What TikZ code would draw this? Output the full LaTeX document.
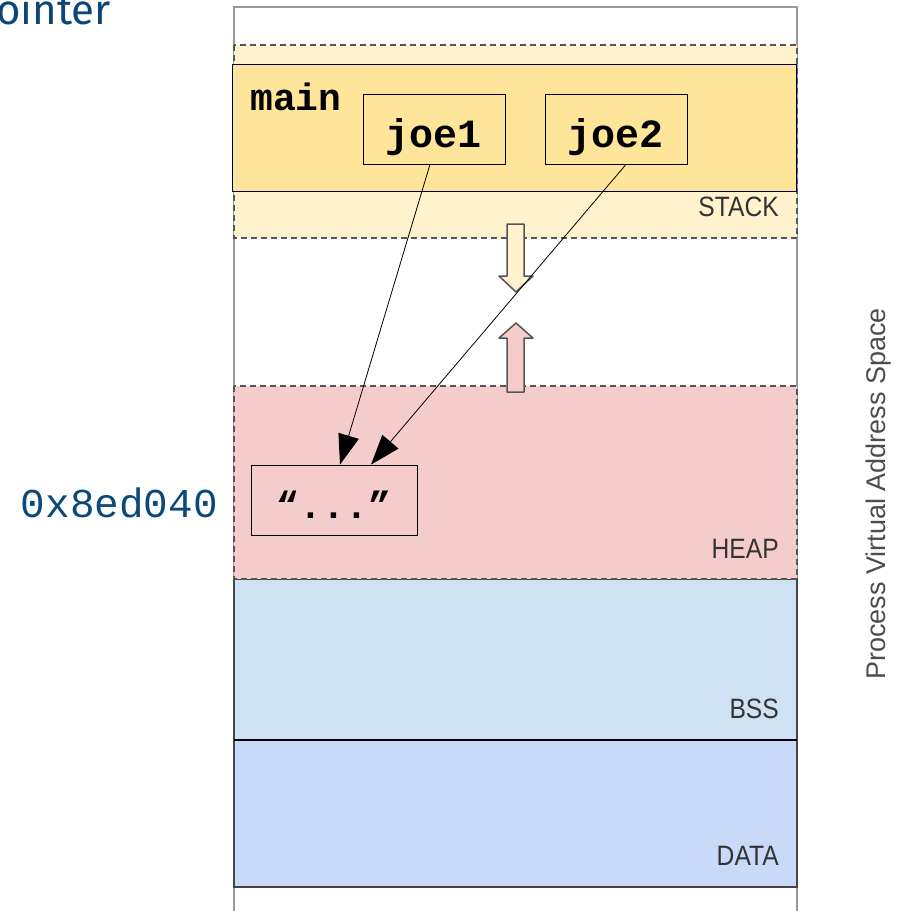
\documentclass[tikz,border=0pt]{standalone}
\usepackage{fontspec}
\setmainfont{Liberation Sans}
\newfontfamily\codefont{Liberation Mono}
\newfontfamily\segfont[FakeStretch=0.88]{Liberation Sans}
\newfontfamily\titlefont{Fira Sans}
\usetikzlibrary{arrows.meta}

\definecolor{stackfill}{HTML}{FFF2CC}
\definecolor{framefill}{HTML}{FFE599}
\definecolor{heapfill}{HTML}{F4CCCC}
\definecolor{bssfill}{HTML}{CFE2F3}
\definecolor{datafill}{HTML}{C9DAF8}
\definecolor{addrblue}{HTML}{0B4A78}
\definecolor{titleblue}{HTML}{0E4577}
\definecolor{edgegray}{HTML}{555555}
\definecolor{framegray}{HTML}{9A9A9A}
\definecolor{labelgray}{HTML}{333333}

\tikzset{
  regionedge/.style={draw=edgegray, line width=1.4pt, dash pattern=on 6pt off 4pt},
  solidedge/.style={draw=edgegray!80!black, line width=1.4pt},
  varbox/.style={draw=black, line width=0.8pt, fill=framefill, inner sep=0pt,
    minimum width=142pt, minimum height=70pt, text height=40pt, text depth=4pt,
    font=\codefont\bfseries\fontsize{40}{44}\selectfont},
  seglabel/.style={anchor=base east, inner sep=0pt, text=labelgray,
    font=\segfont\fontsize{28}{30}\selectfont},
  ptr/.style={draw=black, line width=0.8pt, -{Triangle[length=30pt,width=21pt]}},
  growarrow/.style={draw=edgegray, line width=1.5pt, line join=round}
}

\begin{document}
\begin{tikzpicture}[x=1pt,y=-1pt]
\useasboundingbox (0,0) rectangle (907,911);

% slide title, running off the top edge
\begin{scope}
  \clip (0,0) rectangle (907,911);
  \node[anchor=base east, inner sep=0pt, text=titleblue,
        font=\titlefont\fontsize{42}{46}\selectfont] (title) at (111,24) {ointer};
\end{scope}

% outer frame of the address space
\draw[framegray, line width=1.5pt] (234,911) -- (234,7) -- (797,7) -- (797,911);

% stack segment
\fill[stackfill] (234,45) rectangle (797,238);
\draw[regionedge] (234,45) rectangle (797,238);

% bss and data segments
\draw[solidedge, fill=bssfill] (234,579) rectangle (797,740);
\draw[solidedge, fill=datafill] (234,740) rectangle (797,887);
\draw[black, line width=1.6pt] (234,740) -- (797,740);

% heap segment
\fill[heapfill] (234,386) rectangle (797,579);
\draw[regionedge] (234,386) rectangle (797,579);

% stack frame of main
\node[draw=black!75!blue, line width=0.8pt, fill=framefill, inner sep=0pt,
      minimum width=564pt, minimum height=127pt] (mainframe) at (514,127.5) {};
\node[anchor=base west, inner sep=0pt,
      font=\codefont\bfseries\fontsize{38}{40}\selectfont] (mainlbl) at (250,110) {main};

\node[varbox] (joe1) at (434,129) {joe1};
\node[varbox] (joe2) at (616,129) {joe2};

% string on the heap
\node[varbox, fill=heapfill, minimum width=166pt,
      font=\codefont\bfseries\fontsize{38}{40}\selectfont] (str) at (334,500) {“...”};
\node[anchor=base east, inner sep=0pt, text=addrblue,
      font=\codefont\fontsize{41}{44}\selectfont] (addr) at (218,517) {0x8ed040};

% growth directions of stack and heap
\draw[growarrow, fill=stackfill] (507,224) -- (524,224) -- (524,276) -- (533,276)
  -- (516,292) -- (499,276) -- (507,276) -- cycle;
\draw[growarrow, fill=heapfill] (507,392) -- (524,392) -- (524,338) -- (533,338)
  -- (516,323) -- (499,338) -- (507,338) -- cycle;

% segment names
\node[seglabel] (stacklbl) at (779,216) {STACK};
\node[seglabel] (heaplbl) at (779,558) {HEAP};
\node[seglabel] (bsslbl) at (779,718) {BSS};
\node[seglabel] (datalbl) at (779,865) {DATA};

% both pointers refer to the same string
\draw[ptr] ([xshift=-4pt]joe1.south) -- ([xshift=6pt]str.north);
\draw[ptr] ([xshift=10pt]joe2.south) -- ([xshift=37pt]str.north);

\node[rotate=90, anchor=base, inner sep=0pt, text=black!70,
      font=\fontsize{27}{30}\selectfont] (vas) at (885,494) {Process Virtual Address Space};
\end{tikzpicture}
\end{document}
